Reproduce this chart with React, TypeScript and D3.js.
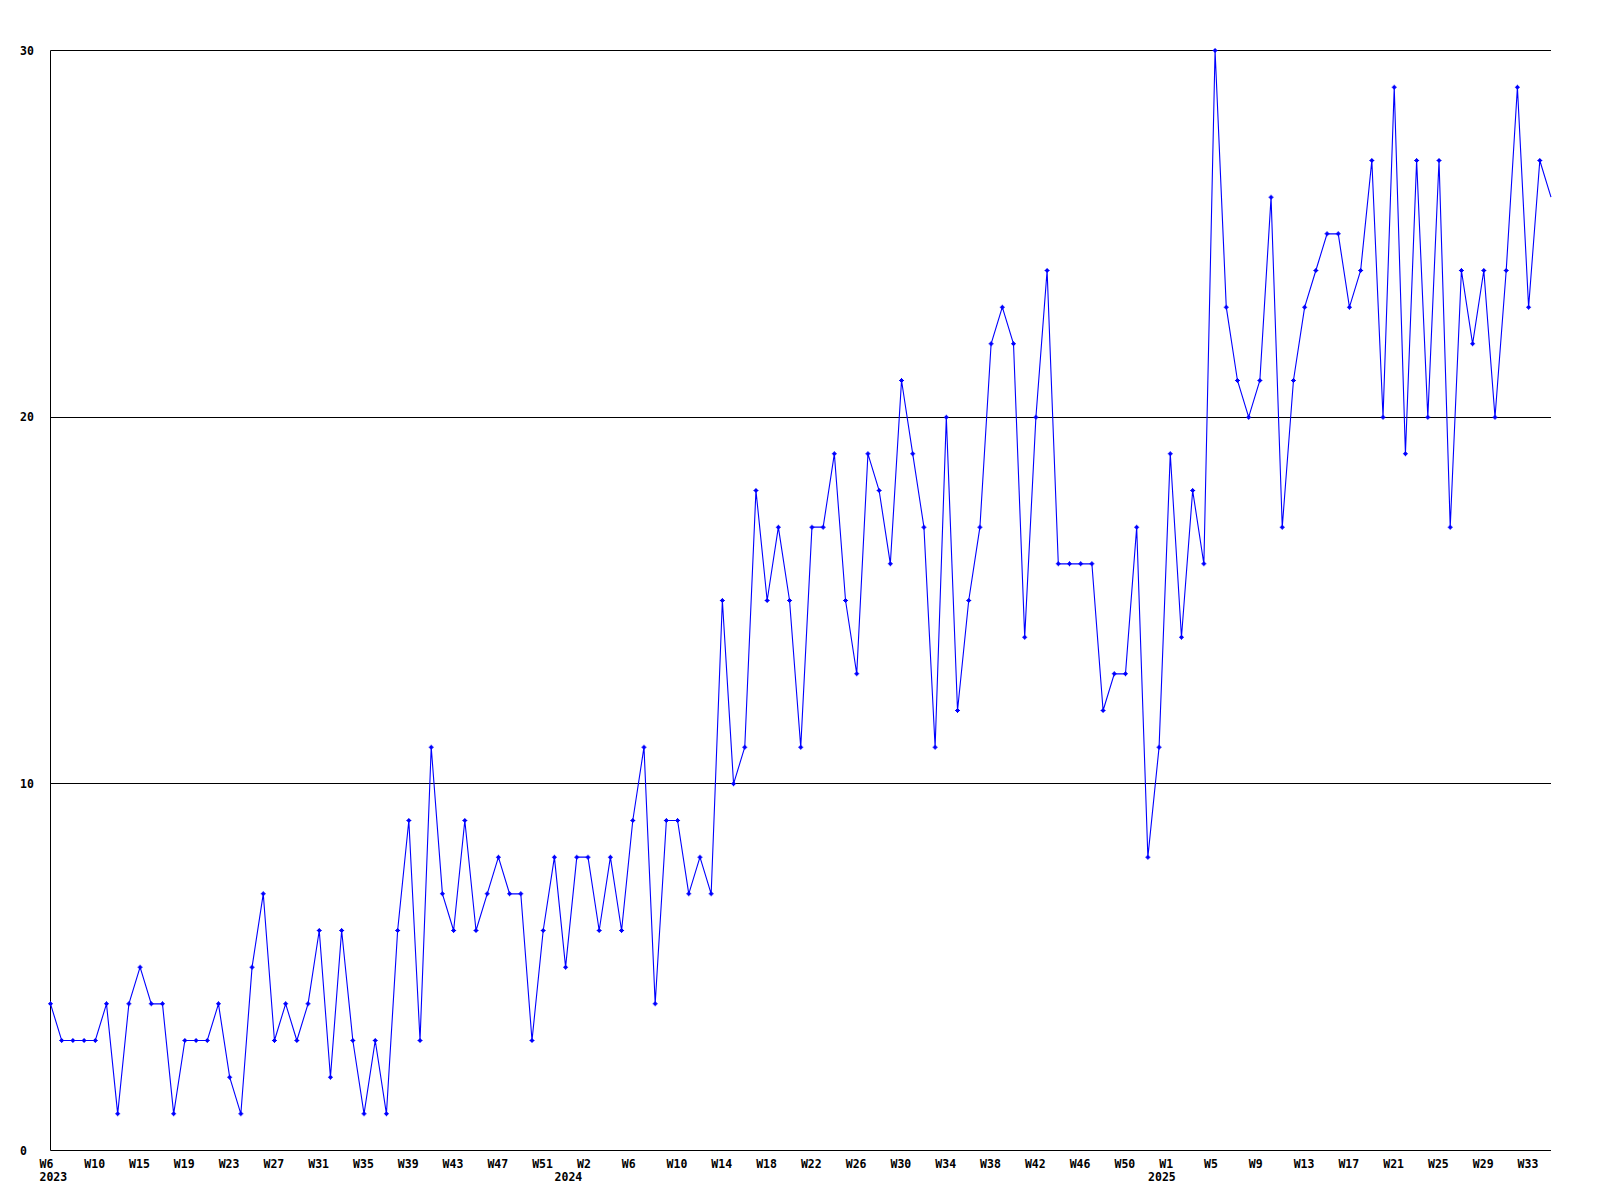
import React from "react";
import * as d3 from "d3";

// Weekly counts, 2023 W6 onwards (one value per week)
const counts: number[] = [
  4, 3, 3, 3, 3, 4, 1, 4, 5, 4,
  4, 1, 3, 3, 3, 4, 2, 1, 5, 7,
  3, 4, 3, 4, 6, 2, 6, 3, 1, 3,
  1, 6, 9, 3, 11, 7, 6, 9, 6, 7,
  8, 7, 7, 3, 6, 8, 5, 8, 8, 6,
  8, 6, 9, 11, 4, 9, 9, 7, 8, 7,
  15, 10, 11, 18, 15, 17, 15, 11, 17, 17,
  19, 15, 13, 19, 18, 16, 21, 19, 17, 11,
  20, 12, 15, 17, 22, 23, 22, 14, 20, 24,
  16, 16, 16, 16, 12, 13, 13, 17, 8, 11,
  19, 14, 18, 16, 30, 23, 21, 20, 21, 26,
  17, 21, 23, 24, 25, 25, 23, 24, 27, 20,
  29, 19, 27, 20, 27, 17, 24, 22, 24, 20,
  24, 29, 23, 27, 26,
];

// Week tick labels, one every 4 data points
const weekLabels: string[] = [
  "W6", "W10", "W15", "W19", "W23", "W27", "W31", "W35", "W39", "W43", "W47", "W51",
  "W2", "W6", "W10", "W14", "W18", "W22", "W26", "W30", "W34", "W38", "W42", "W46", "W50",
  "W1", "W5", "W9", "W13", "W17", "W21", "W25", "W29", "W33",
];
const weekLabelStep = 4;

// Year labels and the data index where they appear
const yearLabels: string[] = ["2023", "2024", "2025"];
const yearIndex: number[] = [0, 46, 99];

const yTicks: number[] = [0, 10, 20, 30];

const W = 1600;
const H = 1200;
const left = 50.5;
const right = 1551;
const top = 50.5;
const bottom = 1150.5;
const font = "'DejaVu Sans Mono', monospace";

export default function App() {
  const x = d3.scaleLinear().domain([0, counts.length - 1]).range([left, right]);
  const y = d3.scaleLinear().domain([0, 30]).range([bottom, top]);
  const line = d3
    .line<number>()
    .x((_, i) => x(i))
    .y((d) => y(d));

  // bold plus-shaped marker
  const plus =
    "M-2.5,-0.5H-1.5V-1.5H-0.5V-2.5H0.5V-1.5H1.5V-0.5H2.5V0.5H1.5V1.5H0.5V2.5H-0.5V1.5H-1.5V0.5H-2.5Z";

  return (
    <svg
      width={W}
      height={H}
      style={{ position: "absolute", left: 0, top: 0, background: "#fff" }}
    >
      <rect x={0} y={0} width={W} height={H} fill="#fff" />
      {/* gridlines */}
      {yTicks.map((t) => (
        <line
          key={"g" + t}
          x1={left}
          x2={right}
          y1={Math.round(y(t) - 0.5) + 0.5}
          y2={Math.round(y(t) - 0.5) + 0.5}
          stroke="#000"
          strokeWidth={1}
        />
      ))}
      {/* left axis */}
      <line x1={left} x2={left} y1={top} y2={bottom} stroke="#000" strokeWidth={1} />
      {/* y labels */}
      {yTicks.map((t) => (
        <text
          key={"yl" + t}
          x={20}
          y={y(t) + 4}
          fontFamily={font}
          fontWeight="bold"
          fontSize={11.5}
          fill="#000"
        >
          {t}
        </text>
      ))}
      {/* week labels */}
      {weekLabels.map((lab, i) => (
        <text
          key={"w" + i}
          x={x(i * weekLabelStep) - 11}
          y={bottom + 17}
          fontFamily={font}
          fontWeight="bold"
          fontSize={11.5}
          fill="#000"
        >
          {lab}
        </text>
      ))}
      {/* year labels */}
      {yearLabels.map((lab, i) => (
        <text
          key={"yr" + i}
          x={x(yearIndex[i]) - 11}
          y={bottom + 30}
          fontFamily={font}
          fontWeight="bold"
          fontSize={11.5}
          fill="#000"
        >
          {lab}
        </text>
      ))}
      {/* series line */}
      <path d={line(counts) || ""} fill="none" stroke="#0000ff" strokeWidth={1.1} />
      {/* markers (the last one sits on the right edge and is not shown) */}
      {counts.slice(0, counts.length - 1).map((d, i) => (
        <path
          key={"m" + i}
          d={plus}
          transform={`translate(${x(i)},${y(d)})`}
          fill="#0000ff"
        />
      ))}
    </svg>
  );
}
